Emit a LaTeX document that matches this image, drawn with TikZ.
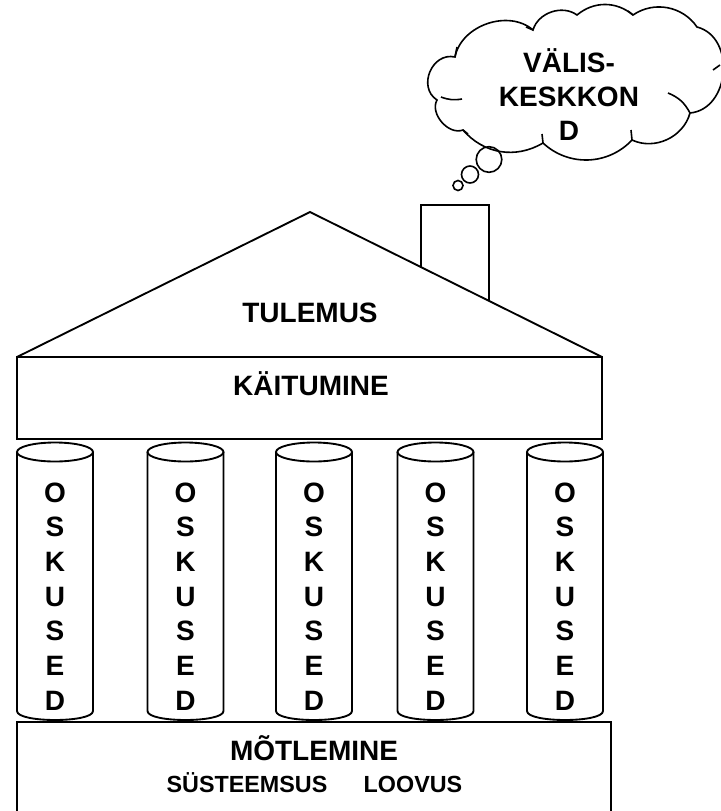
\documentclass[tikz,border=0pt]{standalone}
\usepackage{fontspec}
\setmainfont{Liberation Sans}
\begin{document}
\begin{tikzpicture}[x=0.75pt,y=-0.75pt,line width=1.4pt,line join=miter,
  lbl/.style={font=\bfseries\fontsize{21}{21}\selectfont,anchor=base,inner sep=0pt},
  sublbl/.style={font=\bfseries\fontsize{17.5}{17.5}\selectfont,anchor=base,inner sep=0pt},
  tick/.style={line width=1.2pt},
  cloudline/.style={line width=1.2pt}]
\useasboundingbox (0,0) rectangle (721,811);
\clip (0,0) rectangle (721,811);
% roof and chimney
\draw (17,357) -- (310,212) -- (602,357);
\draw (421,267) -- (421,205) -- (489,205) -- (489,301);
% behaviour beam
\draw (17,357) rectangle (602,439);
\node[lbl] (tulemus) at (310,322) {TULEMUS};
\node[lbl] (kaitumine) at (311,395) {KÄITUMINE};
% columns
\foreach \cx [count=\i] in {55,185.5,314,435.5,565} {
  \draw (\cx,452) ellipse [x radius=38, y radius=9.5];
  \draw (\cx-38,452) -- (\cx-38,711) .. controls (\cx-38,723) and (\cx+38,723) .. (\cx+38,711) -- (\cx+38,452);
  \foreach \ch [count=\j from 0] in {O,S,K,U,S,E,D} {
    \node[lbl] (col\i-\j) at (\cx,502+34.7*\j) {\ch};
  }
}
% base
\draw (17,830) -- (17,722) -- (611,722) -- (611,830);
\node[lbl] (motlemine) at (314,760) {MÕTLEMINE};
\node[sublbl] (systeemsus) at (247,792) {SÜSTEEMSUS};
\node[sublbl] (loovus) at (413,792) {LOOVUS};
% cloud
\draw[cloudline] (437,100)
  to[bend left=80, looseness=1.3] (455,57)
  to[bend left=60] (533,30)
  to[bend left=55] (577,15)
  to[bend left=40] (633,15)
  to[bend left=45] (697,27)
  to[bend left=80, looseness=1.2] (690,113)
  to[bend left=50] (632,140)
  to[bend left=45] (543,143)
  to[bend left=40] (463,130)
  to[bend left=70] (437,100) -- cycle;
\draw[tick] (441,97) to[bend right=15] (462,99);
\draw[tick] (455,57) -- (457,47);
\draw[tick] (533,30) -- (526,27);
\draw[tick] (633,15) -- (628,11);
\draw[tick] (713,70) -- (720,65);
\draw[tick] (690,113) to[bend right=20] (668,93);
\draw[tick] (632,140) -- (631,130);
\draw[tick] (543,143) -- (542,134);
\draw[tick] (463,130) -- (468,134);
\draw[cloudline] (489,159.5) circle[radius=12.8];
\draw[cloudline] (470,174.5) circle[radius=8.5];
\draw[cloudline] (458,185.5) circle[radius=5];
\node[lbl] (valis1) at (569,72) {VÄLIS-};
\node[lbl] (valis2) at (569,106) {KESKKON};
\node[lbl] (valis3) at (569,140) {D};
\end{tikzpicture}
\end{document}
